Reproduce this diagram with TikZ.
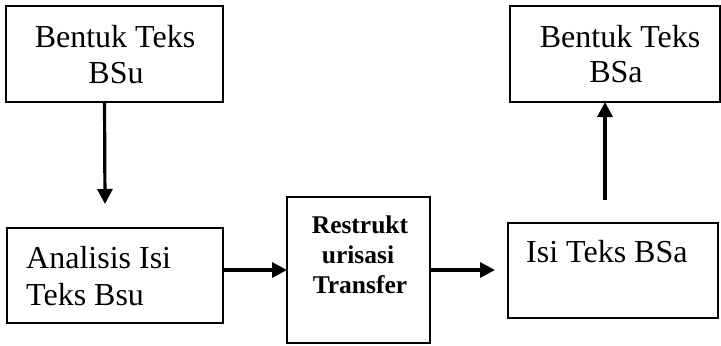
\documentclass[tikz,border=0pt]{standalone}
\usepackage{fontspec}
\setmainfont{Liberation Serif}
\usetikzlibrary{arrows.meta}
\begin{document}
\begin{tikzpicture}[x=1bp,y=-1bp,
  box/.style={draw=black, line width=2.8bp, inner sep=0pt, outer sep=0pt, anchor=north west},
  big/.style={font=\fontsize{32bp}{38bp}\selectfont, inner sep=0pt},
  small/.style={font=\fontsize{25.5bp}{30bp}\selectfont\bfseries, inner sep=0pt},
  arr/.style={line width=3.2bp, -{Triangle[length=15bp,width=15bp]}}]
\useasboundingbox (0,0) rectangle (721,345);
% boxes
\node[box, minimum width=217bp, minimum height=96bp] (bsu) at (6,6) {};
\node[box, minimum width=210bp, minimum height=96bp] (bsa) at (510,6) {};
\node[box, minimum width=216bp, minimum height=95bp] (ana) at (7,228) {};
\node[box, minimum width=143bp, minimum height=146bp] (res) at (287,197) {};
\node[box, minimum width=210bp, minimum height=95bp] (isi) at (508,223) {};
% texts
\node[big, anchor=base] (t1a) at (115,47) {Bentuk Teks};
\node[big, anchor=base] (t1b) at (116,83) {BSu};
\node[big, anchor=base] (t2a) at (620,47) {Bentuk Teks};
\node[big, anchor=base] (t2b) at (616,82) {BSa};
\node[big, anchor=base west] (t3a) at (26,268) {Analisis Isi};
\node[big, anchor=base west] (t3b) at (26,305) {Teks Bsu};
\node[small, anchor=base] (t4a) at (360,233) {Restrukt};
\node[small, anchor=base] (t4b) at (358,263) {urisasi};
\node[small, anchor=base] (t4c) at (360,293) {Transfer};
\node[big, anchor=base west] (t5) at (526,262) {Isi Teks BSa};
% connectors
\coordinate (a1s) at ([xshift=-10bp]bsu.south);
\coordinate (a1e) at ([xshift=-10bp,yshift=24bp]ana.north);
\draw[arr] (a1s) -- (a1e);
\draw[arr] (ana.east |- res.west) -- (res.west);
\coordinate (a3e) at ([xshift=-13bp]isi.west);
\draw[arr] (res.east) -- (res.east -| a3e);
\coordinate (a4s) at ([xshift=-8bp,yshift=23bp]isi.north);
\draw[arr] (a4s) -- (a4s |- bsa.south);
\end{tikzpicture}
\end{document}
